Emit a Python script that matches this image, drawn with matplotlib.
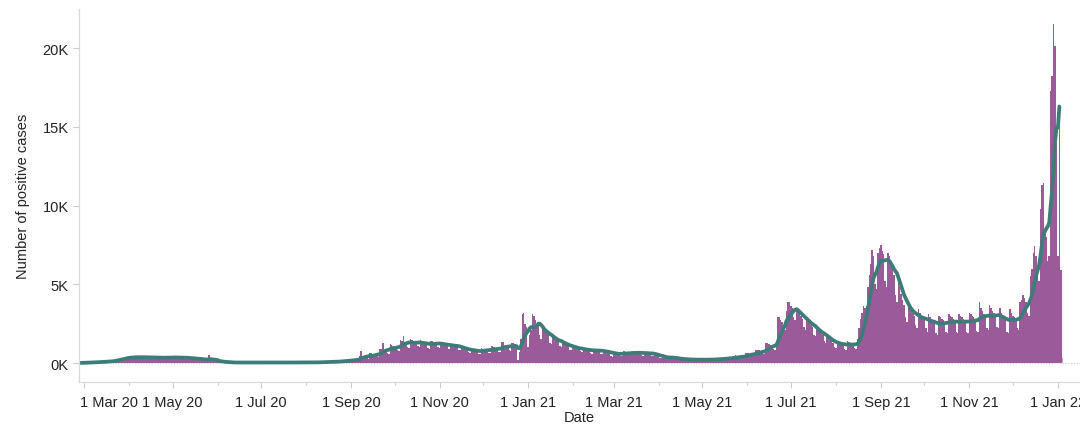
import numpy as np
import pandas as pd
import matplotlib
matplotlib.use("Agg")
import matplotlib.pyplot as plt
import matplotlib.dates as mdates
import matplotlib.transforms as mtransforms
from matplotlib.ticker import FuncFormatter

# daily positive cases, first day 27 Feb 2020, one row per week (Mon..Sun)
start_date = "2020-02-27"
daily_cases = [
    5, 10, 15, 10,                                   # 27 Feb - 1 Mar 20
    30, 40, 45, 50, 50, 40, 35,                      # 2 Mar 20
    60, 70, 80, 85, 90, 60, 55,
    100, 120, 130, 140, 150, 110, 100,
    220, 260, 280, 300, 310, 250, 230,
    380, 400, 400, 390, 380, 300, 290,               # 30 Mar 20
    420, 410, 400, 390, 380, 300, 280,
    400, 390, 380, 370, 360, 290, 280,
    380, 370, 360, 350, 340, 280, 270,
    400, 390, 380, 370, 360, 290, 280,               # 27 Apr 20
    390, 380, 370, 360, 350, 280, 270,
    340, 330, 320, 310, 300, 240, 230,
    270, 260, 250, 240, 230, 180, 170,
    200, 520, 180, 170, 160, 120, 110,               # 25 May 20
    90, 85, 80, 75, 70, 50, 45,
    40, 38, 36, 35, 34, 25, 22,
    38, 36, 35, 34, 33, 24, 22,
    36, 35, 34, 33, 32, 24, 21,
    36, 35, 34, 33, 32, 24, 21,                      # 29 Jun 20
    38, 36, 35, 34, 33, 25, 22,
    40, 38, 36, 35, 34, 25, 23,
    42, 40, 38, 37, 36, 27, 25,
    45, 43, 41, 40, 38, 28, 26,                      # 27 Jul 20
    50, 48, 45, 44, 42, 30, 28,
    70, 68, 65, 62, 60, 45, 40,
    100, 95, 90, 88, 85, 65, 60,
    150, 145, 140, 135, 130, 100, 95,
    240, 230, 220, 210, 200, 160, 150,               # 31 Aug 20
    450, 760, 420, 400, 380, 300, 280,
    650, 620, 600, 580, 560, 430, 400,
    900, 880, 1270, 850, 820, 620, 580,
    1200, 1150, 1100, 1080, 1050, 800, 760,          # 28 Sep 20
    1450, 1400, 1700, 1350, 1300, 1000, 950,
    1500, 1450, 1400, 1380, 1350, 1050, 1000,
    1480, 1350, 1300, 1280, 1250, 950, 900,
    1400, 1380, 1350, 1330, 1300, 1000, 950,         # 26 Oct 20
    1300, 1280, 1250, 1230, 1200, 920, 880,
    1200, 1180, 1150, 1120, 1100, 850, 800,
    1000, 960, 930, 900, 880, 680, 640,
    880, 850, 830, 800, 780, 600, 570,
    950, 920, 900, 870, 850, 650, 620,               # 30 Nov 20
    1050, 1020, 1000, 970, 950, 720, 680,
    1350, 1330, 1100, 1080, 1050, 800, 760,
    1300, 1250, 1200, 1150, 200, 700, 1500,
    3100, 3150, 2500, 2300, 1000, 1800, 2100,        # 28 Dec 20
    3100, 3000, 2700, 2500, 2300, 1800, 1500,
    2300, 2100, 2000, 1900, 1800, 1300, 1200,
    1700, 1600, 1500, 1450, 1400, 1100, 1000,
    1300, 1250, 1200, 1150, 1100, 850, 800,          # 25 Jan 21
    1100, 1050, 1000, 950, 900, 750, 700,
    950, 900, 880, 860, 850, 650, 600,
    900, 880, 860, 840, 800, 600, 600,
    800, 780, 760, 700, 650, 450, 400,
    700, 680, 650, 620, 600, 450, 420,               # 1 Mar 21
    760, 720, 700, 680, 650, 500, 480,
    760, 740, 720, 700, 650, 480, 460,
    720, 700, 680, 650, 620, 450, 420,
    600, 560, 520, 480, 350, 300, 300,               # 29 Mar 21
    320, 420, 400, 380, 360, 280, 260,
    320, 300, 280, 270, 260, 200, 190,
    260, 250, 240, 230, 220, 170, 160,
    250, 240, 230, 220, 210, 160, 150,               # 26 Apr 21
    260, 250, 240, 230, 220, 170, 160,
    300, 290, 280, 270, 250, 200, 190,
    380, 360, 350, 340, 320, 260, 250,
    480, 460, 450, 430, 400, 330, 320,
    650, 640, 620, 600, 560, 450, 430,               # 31 May 21
    850, 830, 800, 780, 750, 600, 560,
    1300, 1250, 1200, 1150, 1100, 900, 850,
    1300, 2950, 2900, 2700, 2600, 2200, 2100,
    3300, 3900, 3850, 3600, 3500, 2900, 2700,        # 28 Jun 21
    3500, 3400, 3200, 3000, 2800, 2300, 2100,
    2900, 2700, 2600, 2400, 2300, 1800, 1700,
    2200, 2100, 2000, 1900, 1800, 1400, 1300,
    1700, 1600, 1500, 1400, 1300, 1000, 950,         # 26 Jul 21
    1400, 1350, 1300, 1250, 1200, 900, 850,
    1400, 1350, 1300, 1250, 1200, 950, 900,
    1500, 2200, 2800, 3200, 3600, 3500, 3600,
    4800, 5600, 6300, 7200, 6800, 5000, 4700,
    7000, 7300, 7500, 7100, 6900, 5200, 4800,        # 30 Aug 21
    7000, 6800, 6400, 6000, 5600, 4300, 3900,
    5200, 4800, 4400, 4000, 3700, 2900, 2600,
    3900, 3600, 3400, 3200, 3000, 2400, 2200,
    3400, 3200, 3000, 2900, 2800, 2200, 2000,        # 27 Sep 21
    3100, 2900, 2800, 2700, 2600, 1900, 1800,
    3000, 2900, 2800, 2700, 2600, 2000, 1900,
    3100, 3000, 2900, 2800, 2700, 2000, 1900,
    3100, 3000, 2900, 2800, 2700, 2000, 1900,        # 25 Oct 21
    3200, 3100, 3000, 2900, 2800, 2050, 2000,
    3850, 3500, 3300, 3100, 3000, 2200, 2100,
    3700, 3500, 3300, 3200, 3100, 2300, 2200,
    3500, 3200, 3000, 2900, 2700, 2000, 1900,
    3400, 3200, 3000, 2900, 2800, 2200, 2100,        # 29 Nov 21
    3900, 4000, 4300, 4100, 3900, 3200, 3000,
    5500, 6000, 7000, 7400, 6800, 5500, 5200,
    9800, 11300, 11400, 8500, 8000, 6500, 6800,
    17300, 18200, 21500, 20100, 14000, 6800, 16100,  # 27 Dec 21
    5900,                                            # 3 Jan 22
]
# last day, data still incomplete (grey bar)
partial_date = "2022-01-04"
partial_cases = 300
avg_last_date = "2022-01-02"

bar_color = "#9b5b9b"
line_color = "#3d7c79"
grey = "#cccccc"

dates = pd.date_range(start_date, periods=len(daily_cases), freq="D")
cases = pd.Series(daily_cases, index=dates)
avg = cases.rolling(7, min_periods=1).mean()
avg = avg[avg.index <= avg_last_date]

plt.rcParams["font.family"] = ["Liberation Sans", "DejaVu Sans"]

fig = plt.figure(figsize=(10.8, 4.35), dpi=100)
ax = fig.add_axes([0.0731, 0.1195, 0.9269, 0.8575])

ax.axhline(0, color=grey, linestyle=(0, (1, 1.5)), linewidth=0.8, zorder=0)
ax.bar(cases.index, cases.values, width=1.0, color=bar_color, linewidth=0, zorder=1)
ax.bar(pd.Timestamp(partial_date), partial_cases, width=1.0, color="#b4b0c0", linewidth=0, zorder=1)
ax.plot(avg.index, avg.values, color=line_color, linewidth=2.7, solid_capstyle="round", zorder=2)

ax.set_xlim(pd.Timestamp("2020-02-26 13:00"), pd.Timestamp("2022-01-16 05:00"))
ax.set_ylim(-1206, 22476)

ax.xaxis.set_major_locator(mdates.MonthLocator(bymonth=[1, 3, 5, 7, 9, 11]))
ax.xaxis.set_minor_locator(mdates.MonthLocator())
ax.xaxis.set_major_formatter(mdates.DateFormatter("1 %b %y"))
ax.set_yticks([0, 5000, 10000, 15000, 20000])
ax.yaxis.set_major_formatter(FuncFormatter(lambda v, p: f"{v / 1000:.0f}K"))

for side in ["top", "right"]:
    ax.spines[side].set_visible(False)
for side in ["left", "bottom"]:
    ax.spines[side].set_color("#d9d9d9")
    ax.spines[side].set_linewidth(0.9)

ax.tick_params(axis="both", which="major", length=4, width=0.8, color="#cccccc",
               labelsize=10.5, labelcolor="#222222")
ax.tick_params(axis="x", which="minor", length=2.5, width=0.8, color="#cccccc")
ax.tick_params(axis="x", which="major", pad=5)

ax.set_xlabel("Date", fontsize=10.5, color="#222222", labelpad=1)
ax.set_ylabel("Number of positive cases", fontsize=10.5, color="#222222", labelpad=9)

# first date label sits to the right of its tick so it is not cut by the axis
fig.canvas.draw()
first = ax.get_xticklabels()[0]
first.set_horizontalalignment("left")
first.set_transform(first.get_transform() + mtransforms.ScaledTranslation(-4 / 100, 0, fig.dpi_scale_trans))

fig.savefig("out.png", dpi=100)
